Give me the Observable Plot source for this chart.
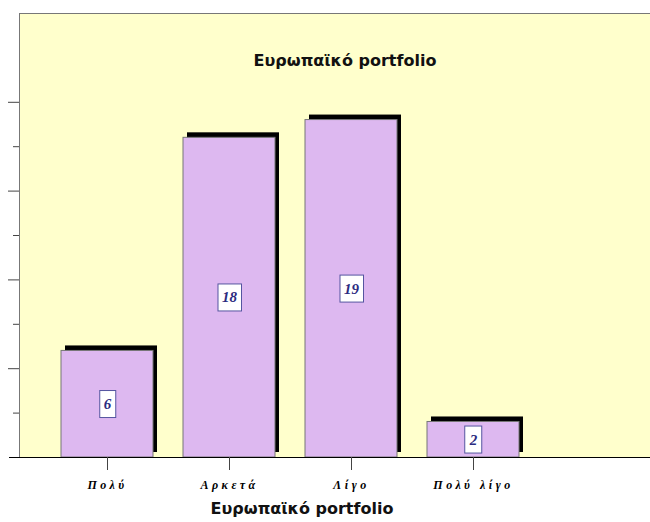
<!DOCTYPE html>
<html><head><meta charset="utf-8">
<script src="https://cdn.jsdelivr.net/npm/d3@7"></script>
<script src="https://cdn.jsdelivr.net/npm/@observablehq/plot@0.6"></script>
<style>body{margin:0;background:#fff}</style>
</head><body><div id="chart"></div>
<script>
const categories = ["Πολύ", "Αρκετά", "Λίγο", "Πολύ λίγο"];
const values = [6, 18, 19, 2];
const majorTicks = [5, 10, 15, 20];
const minorTicks = [2.5, 7.5, 12.5, 17.5];
const title = "Ευρωπαϊκό portfolio";
const xLabel = "Ευρωπαϊκό portfolio";

const data = categories.map((c, i) => ({cat: c, value: values[i]}));

const plot = Plot.plot({
  width: 650, height: 522,
  marginTop: 13, marginBottom: 65, marginLeft: 19, marginRight: 0,
  style: {background: "white", overflow: "visible"},
  x: {domain: categories, range: [30.5, 549], padding: 0.25, label: null},
  y: {domain: [0, 25], label: null},
  marks: [
    Plot.frame({fill: "#FFFFCC", stroke: "#777"}),
    Plot.barY(data, {x: "cat", y: "value", fill: "black", dx: 4, dy: -5}),
    Plot.barY(data, {x: "cat", y: "value", fill: "#DDB8F0", stroke: "#777"}),
    Plot.text(data, {x: "cat", y: d => d.value / 2, text: d => String(d.value),
      fill: "#2B2B80", fontFamily: "Liberation Serif", fontStyle: "italic", fontWeight: "bold",
      fontSize: 15, ariaDescription: "values"}),
    Plot.ruleY([0], {stroke: "black", insetLeft: -10}),
    Plot.axisY({ticks: majorTicks, tickSize: 11, tickFormat: () => "", stroke: "#444"}),
    Plot.axisY({ticks: minorTicks, tickSize: 6, tickFormat: () => "", stroke: "#444"}),
    Plot.axisX({tickSize: 13, tickPadding: 10, stroke: "#444", fontFamily: "Liberation Serif",
      fontStyle: "italic", fontWeight: "bold", fontSize: 12, label: null}),
    Plot.text([title], {text: d => d, frameAnchor: "top", dy: 41, dx: 10,
      fontFamily: "DejaVu Sans", fontWeight: "bold", fontSize: 16, fill: "#111"}),
    Plot.text([xLabel], {text: d => d, frameAnchor: "bottom", dy: 56, dx: -33,
      fontFamily: "DejaVu Sans", fontWeight: "bold", fontSize: 16, fill: "#111"})
  ]
});
document.getElementById("chart").append(plot);

const NS = "http://www.w3.org/2000/svg";
plot.querySelectorAll('g[aria-description="values"] text').forEach(t => {
  const b = t.getBBox();
  const cy = b.y + b.height / 2;
  const r = document.createElementNS(NS, "rect");
  r.setAttribute("x", b.x - 4);
  r.setAttribute("y", cy - 13.5);
  r.setAttribute("width", b.width + 8);
  r.setAttribute("height", 27);
  r.setAttribute("fill", "white");
  r.setAttribute("stroke", "#5555A0");
  r.setAttribute("stroke-width", 1);
  if (t.getAttribute("transform")) r.setAttribute("transform", t.getAttribute("transform"));
  t.parentNode.insertBefore(r, t);
});
plot.querySelectorAll('g[aria-label="x-axis tick label"] text').forEach(t => {
  t.style.letterSpacing = "3.5px";
});
</script>
</body></html>
